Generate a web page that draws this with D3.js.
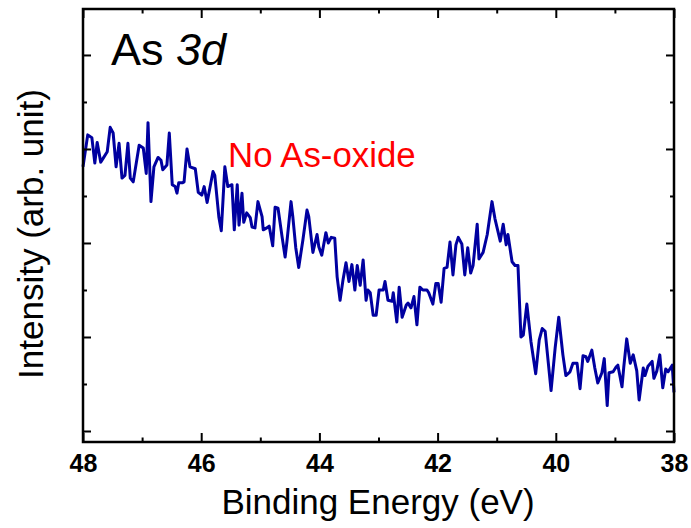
<!DOCTYPE html>
<html><head><meta charset="utf-8">
<script src="https://cdn.jsdelivr.net/npm/d3@7"></script>
<style>
html,body{margin:0;padding:0;background:#fff;}
svg{display:block;font-family:"Liberation Sans",Arial,Helvetica,sans-serif;}
</style></head>
<body>
<svg id="chart" width="691" height="528"></svg>
<script>
// Binding energy (eV)
const energy = [48.00,47.92,47.85,47.80,47.76,47.70,47.66,47.59,47.54,47.49,47.44,47.39,47.34,47.29,47.24,47.20,47.15,47.05,46.98,46.93,46.90,46.85,46.80,46.73,46.68,46.65,46.58,46.54,46.49,46.44,46.41,46.38,46.32,46.29,46.24,46.19,46.10,46.05,45.99,45.95,45.90,45.80,45.77,45.70,45.66,45.60,45.55,45.48,45.44,45.39,45.36,45.31,45.28,45.23,45.17,45.14,45.09,45.04,44.97,44.95,44.89,44.85,44.79,44.75,44.70,44.63,44.58,44.55,44.48,44.45,44.40,44.35,44.28,44.21,44.18,44.11,44.04,44.01,43.96,43.89,43.85,43.80,43.74,43.70,43.65,43.60,43.55,43.50,43.45,43.40,43.36,43.31,43.26,43.21,43.18,43.14,43.09,43.04,42.99,42.92,42.89,42.84,42.77,42.75,42.69,42.65,42.60,42.53,42.50,42.45,42.40,42.35,42.30,42.25,42.18,42.15,42.08,42.03,41.99,41.94,41.89,41.84,41.79,41.74,41.69,41.65,41.59,41.54,41.49,41.44,41.40,41.33,41.30,41.23,41.16,41.08,41.03,40.94,40.89,40.84,40.81,40.74,40.69,40.64,40.59,40.55,40.49,40.42,40.34,40.28,40.23,40.18,40.08,40.01,39.95,39.88,39.83,39.76,39.71,39.64,39.59,39.54,39.49,39.46,39.39,39.34,39.29,39.22,39.18,39.13,39.10,39.03,38.98,38.95,38.88,38.85,38.80,38.74,38.69,38.63,38.59,38.52,38.49,38.44,38.37,38.34,38.29,38.24,38.19,38.14,38.10,38.03,38.00];
// Intensity (arb. unit)
const intensity = [2.81,3.15,3.12,2.85,3.07,2.86,2.90,2.97,3.23,3.17,2.81,3.06,2.69,2.72,3.06,2.69,2.65,3.04,3.01,2.74,3.28,2.44,2.81,2.91,2.88,2.78,2.83,3.17,2.62,2.60,2.53,2.64,2.64,2.65,3.00,2.81,2.79,2.54,2.51,2.60,2.43,2.76,2.72,2.27,2.13,2.81,2.60,2.62,2.14,2.62,2.19,2.53,2.22,2.32,2.27,2.17,2.16,2.44,2.28,2.14,2.16,2.18,1.97,2.38,2.37,2.06,1.85,2.01,2.44,2.28,1.95,1.74,2.03,2.35,2.28,1.90,2.09,1.96,1.87,2.11,2.00,2.06,2.05,1.64,1.39,1.61,1.79,1.59,1.77,1.50,1.76,1.55,1.82,1.39,1.50,1.47,1.23,1.23,1.50,1.50,1.59,1.39,1.38,1.47,1.16,1.53,1.21,1.34,1.36,1.31,1.43,1.13,1.53,1.50,1.50,1.47,1.35,1.57,1.57,1.37,1.73,1.74,2.01,1.66,1.98,2.06,1.99,1.66,1.95,1.68,1.76,2.20,1.83,1.90,2.09,2.44,2.26,2.02,2.20,1.98,2.09,1.80,1.76,1.76,1.00,1.02,1.35,0.95,0.61,0.97,1.09,1.06,0.43,0.89,1.21,0.81,0.59,0.63,0.72,0.72,0.45,0.80,0.79,0.74,0.86,0.67,0.51,0.62,0.77,0.27,0.62,0.63,0.68,0.70,0.47,0.68,0.98,0.72,0.81,0.64,0.33,0.67,0.59,0.69,0.74,0.56,0.64,0.81,0.46,0.66,0.63,0.70,0.41];
const xMajorTicks = [48,46,44,42,40,38];
const xMinorTicks = [47,45,43,41,39];
const yMajorTicks = [0,1,2,3,4];
const yMinorTicks = [0.5,1.5,2.5,3.5];
const xTitle = "Binding Energy (eV)";
const yTitle = "Intensity (arb. unit)";

const svg = d3.select("#chart");
const L = 83, R = 674, T = 9, B = 442;
const x = d3.scaleLinear().domain([48,38]).range([L,R]);
const y = d3.scaleLinear().domain([-0.117,4.489]).range([B,T]);

const data = energy.map((e,i)=>({e, v:intensity[i]}));

// data line
svg.append("path")
  .datum(data)
  .attr("fill","none")
  .attr("stroke","#0000a0")
  .attr("stroke-width",3)
  .attr("stroke-linejoin","round")
  .attr("d", d3.line().x(d=>x(d.e)).y(d=>y(d.v)));

function styleAxis(g){
  g.select(".domain").remove();
  g.selectAll(".tick line").attr("stroke","#000").attr("stroke-width",2);
}
// bottom axis
const gb = svg.append("g").attr("transform",`translate(0,${B})`)
  .call(d3.axisBottom(x).tickValues(xMajorTicks).tickSize(-9).tickFormat(d3.format("d")));
styleAxis(gb);
gb.selectAll(".tick text").attr("y",30).attr("dy",0)
  .attr("font-size",25).attr("font-weight","bold").attr("fill","#000")
  .attr("font-family","'Liberation Sans',Arial,sans-serif");
const gbm = svg.append("g").attr("transform",`translate(0,${B})`)
  .call(d3.axisBottom(x).tickValues(xMinorTicks).tickSize(-4.5).tickFormat(""));
styleAxis(gbm);
// top axis
const gt = svg.append("g").attr("transform",`translate(0,${T})`)
  .call(d3.axisTop(x).tickValues(xMajorTicks).tickSize(-9).tickFormat(""));
styleAxis(gt);
const gtm = svg.append("g").attr("transform",`translate(0,${T})`)
  .call(d3.axisTop(x).tickValues(xMinorTicks).tickSize(-4.5).tickFormat(""));
styleAxis(gtm);
// left axis
const gl = svg.append("g").attr("transform",`translate(${L},0)`)
  .call(d3.axisLeft(y).tickValues(yMajorTicks).tickSize(-8).tickFormat(""));
styleAxis(gl);
const glm = svg.append("g").attr("transform",`translate(${L},0)`)
  .call(d3.axisLeft(y).tickValues(yMinorTicks).tickSize(-4).tickFormat(""));
styleAxis(glm);
// right axis
const gr = svg.append("g").attr("transform",`translate(${R},0)`)
  .call(d3.axisRight(y).tickValues(yMajorTicks).tickSize(-8).tickFormat(""));
styleAxis(gr);
const grm = svg.append("g").attr("transform",`translate(${R},0)`)
  .call(d3.axisRight(y).tickValues(yMinorTicks).tickSize(-4).tickFormat(""));
styleAxis(grm);

// frame
svg.append("rect").attr("x",L).attr("y",T).attr("width",R-L).attr("height",B-T)
  .attr("fill","none").attr("stroke","#000").attr("stroke-width",2.5);

// titles
svg.append("text").attr("x",378).attr("y",514).attr("text-anchor","middle")
  .attr("font-size",35).attr("fill","#000").text(xTitle);
svg.append("text").attr("transform",`translate(43,${234}) rotate(-90)`).attr("text-anchor","middle")
  .attr("font-size",35).attr("fill","#000").text(yTitle);

// annotations
const lab = svg.append("text").attr("x",111).attr("y",65).attr("font-size",45).attr("fill","#000");
lab.append("tspan").text("As ");
lab.append("tspan").attr("font-style","italic").text("3d");
svg.append("text").attr("x",228).attr("y",167).attr("font-size",34.8).attr("fill","#ff0000").text("No As-oxide");
</script>
</body></html>
